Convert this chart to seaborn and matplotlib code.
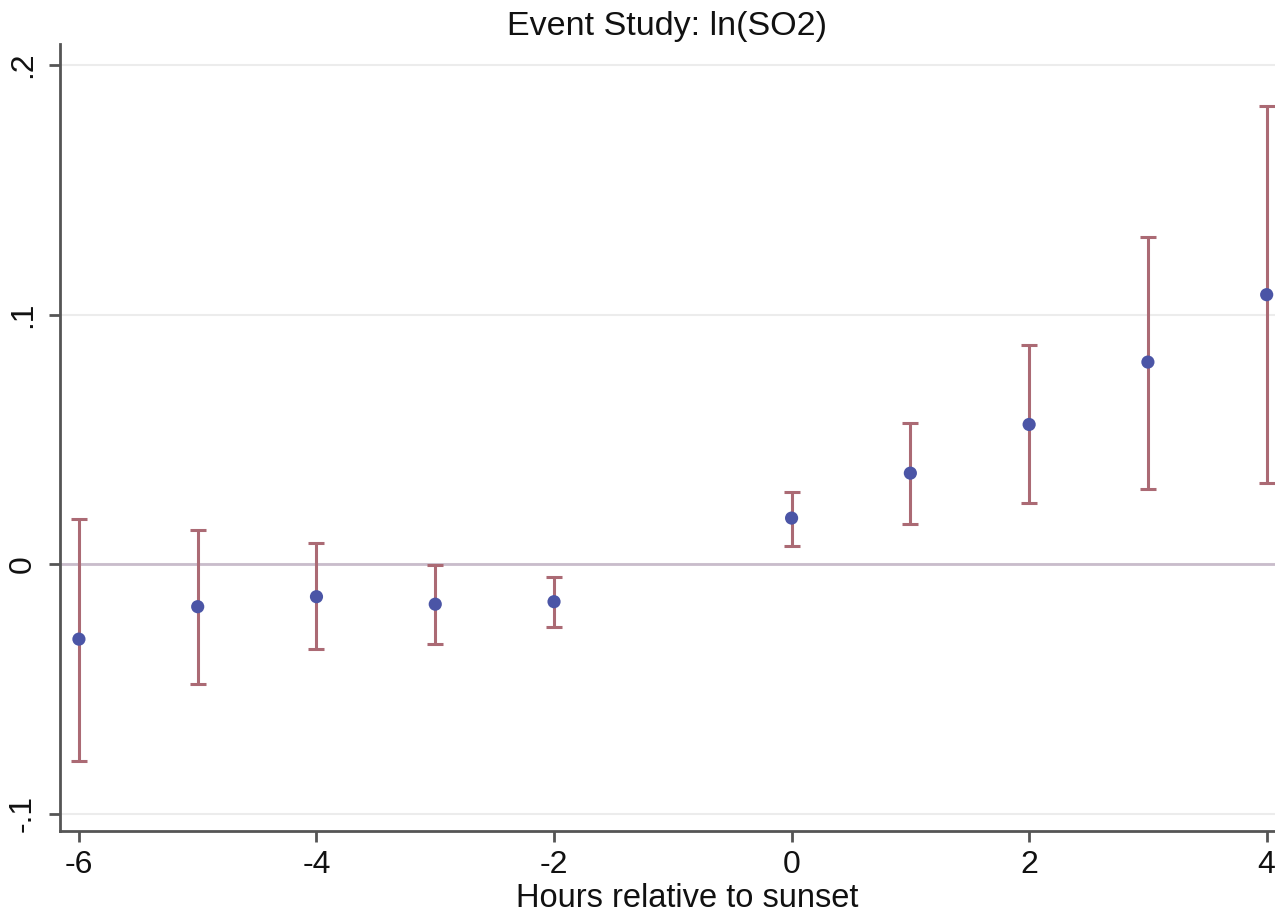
import matplotlib
matplotlib.use("Agg")
import matplotlib.pyplot as plt
import seaborn as sns
import numpy as np
import pandas as pd

hours = [-6, -5, -4, -3, -2, 0, 1, 2, 3, 4]
coef = [-0.030, -0.017, -0.013, -0.016, -0.015, 0.0185, 0.0365, 0.056, 0.081, 0.108]
ci_low = [-0.079, -0.048, -0.034, -0.032, -0.025, 0.0072, 0.016, 0.0245, 0.030, 0.0325]
ci_high = [0.018, 0.0137, 0.0084, -0.0004, -0.005, 0.029, 0.0566, 0.088, 0.131, 0.1835]
xticks = [-6, -4, -2, 0, 2, 4]
yticks = [-0.1, 0.0, 0.1, 0.2]
ytick_labels = ["-.1", "0", ".1", ".2"]

df = pd.DataFrame({"hour": hours, "coef": coef, "lo": ci_low, "hi": ci_high})

sns.set_theme(style="white")
plt.rcParams["font.family"] = ["Liberation Sans", "DejaVu Sans"]

fig = plt.figure(figsize=(12.75, 9.13), dpi=100)
ax = fig.add_axes([0.047, 0.09, 0.953, 0.862])

for y in yticks:
    ax.axhline(y, color="#ececec", lw=1.5, zorder=0)
ax.axhline(0, color="#c9bccb", lw=2, zorder=1)

err_low = df["coef"] - df["lo"]
err_high = df["hi"] - df["coef"]
ax.errorbar(df["hour"], df["coef"], yerr=[err_low, err_high], fmt="none",
            ecolor="#ab6a74", elinewidth=2.2, capsize=6, capthick=2.2, zorder=2)
sns.scatterplot(data=df, x="hour", y="coef", ax=ax, color="#4b55a6", s=90,
                edgecolor="none", zorder=3)

ax.set_xlim(-6.16, 4.07)
ax.set_ylim(-0.1068, 0.2085)
ax.set_xticks(xticks)
ax.set_xticklabels([str(t) for t in xticks])
ax.set_yticks(yticks)
ax.set_yticklabels(ytick_labels, rotation=90, va="center")
ax.tick_params(axis="both", which="both", length=8, width=2, color="#555555",
               labelsize=23, labelcolor="#111111", direction="out", bottom=True, left=True)
ax.tick_params(axis="x", pad=6)
ax.tick_params(axis="y", pad=8)

for side in ["top", "right"]:
    ax.spines[side].set_visible(False)
for side in ["left", "bottom"]:
    ax.spines[side].set_color("#555555")
    ax.spines[side].set_linewidth(2)

ax.set_xlabel("Hours relative to sunset", fontsize=23.5, color="#111111", labelpad=-2)
ax.xaxis.set_label_coords(0.516, -0.066)
ax.set_ylabel("")
ax.set_title("Event Study: ln(SO2)", fontsize=24.5, color="#111111", pad=6)

fig.savefig("out.png", dpi=100)
